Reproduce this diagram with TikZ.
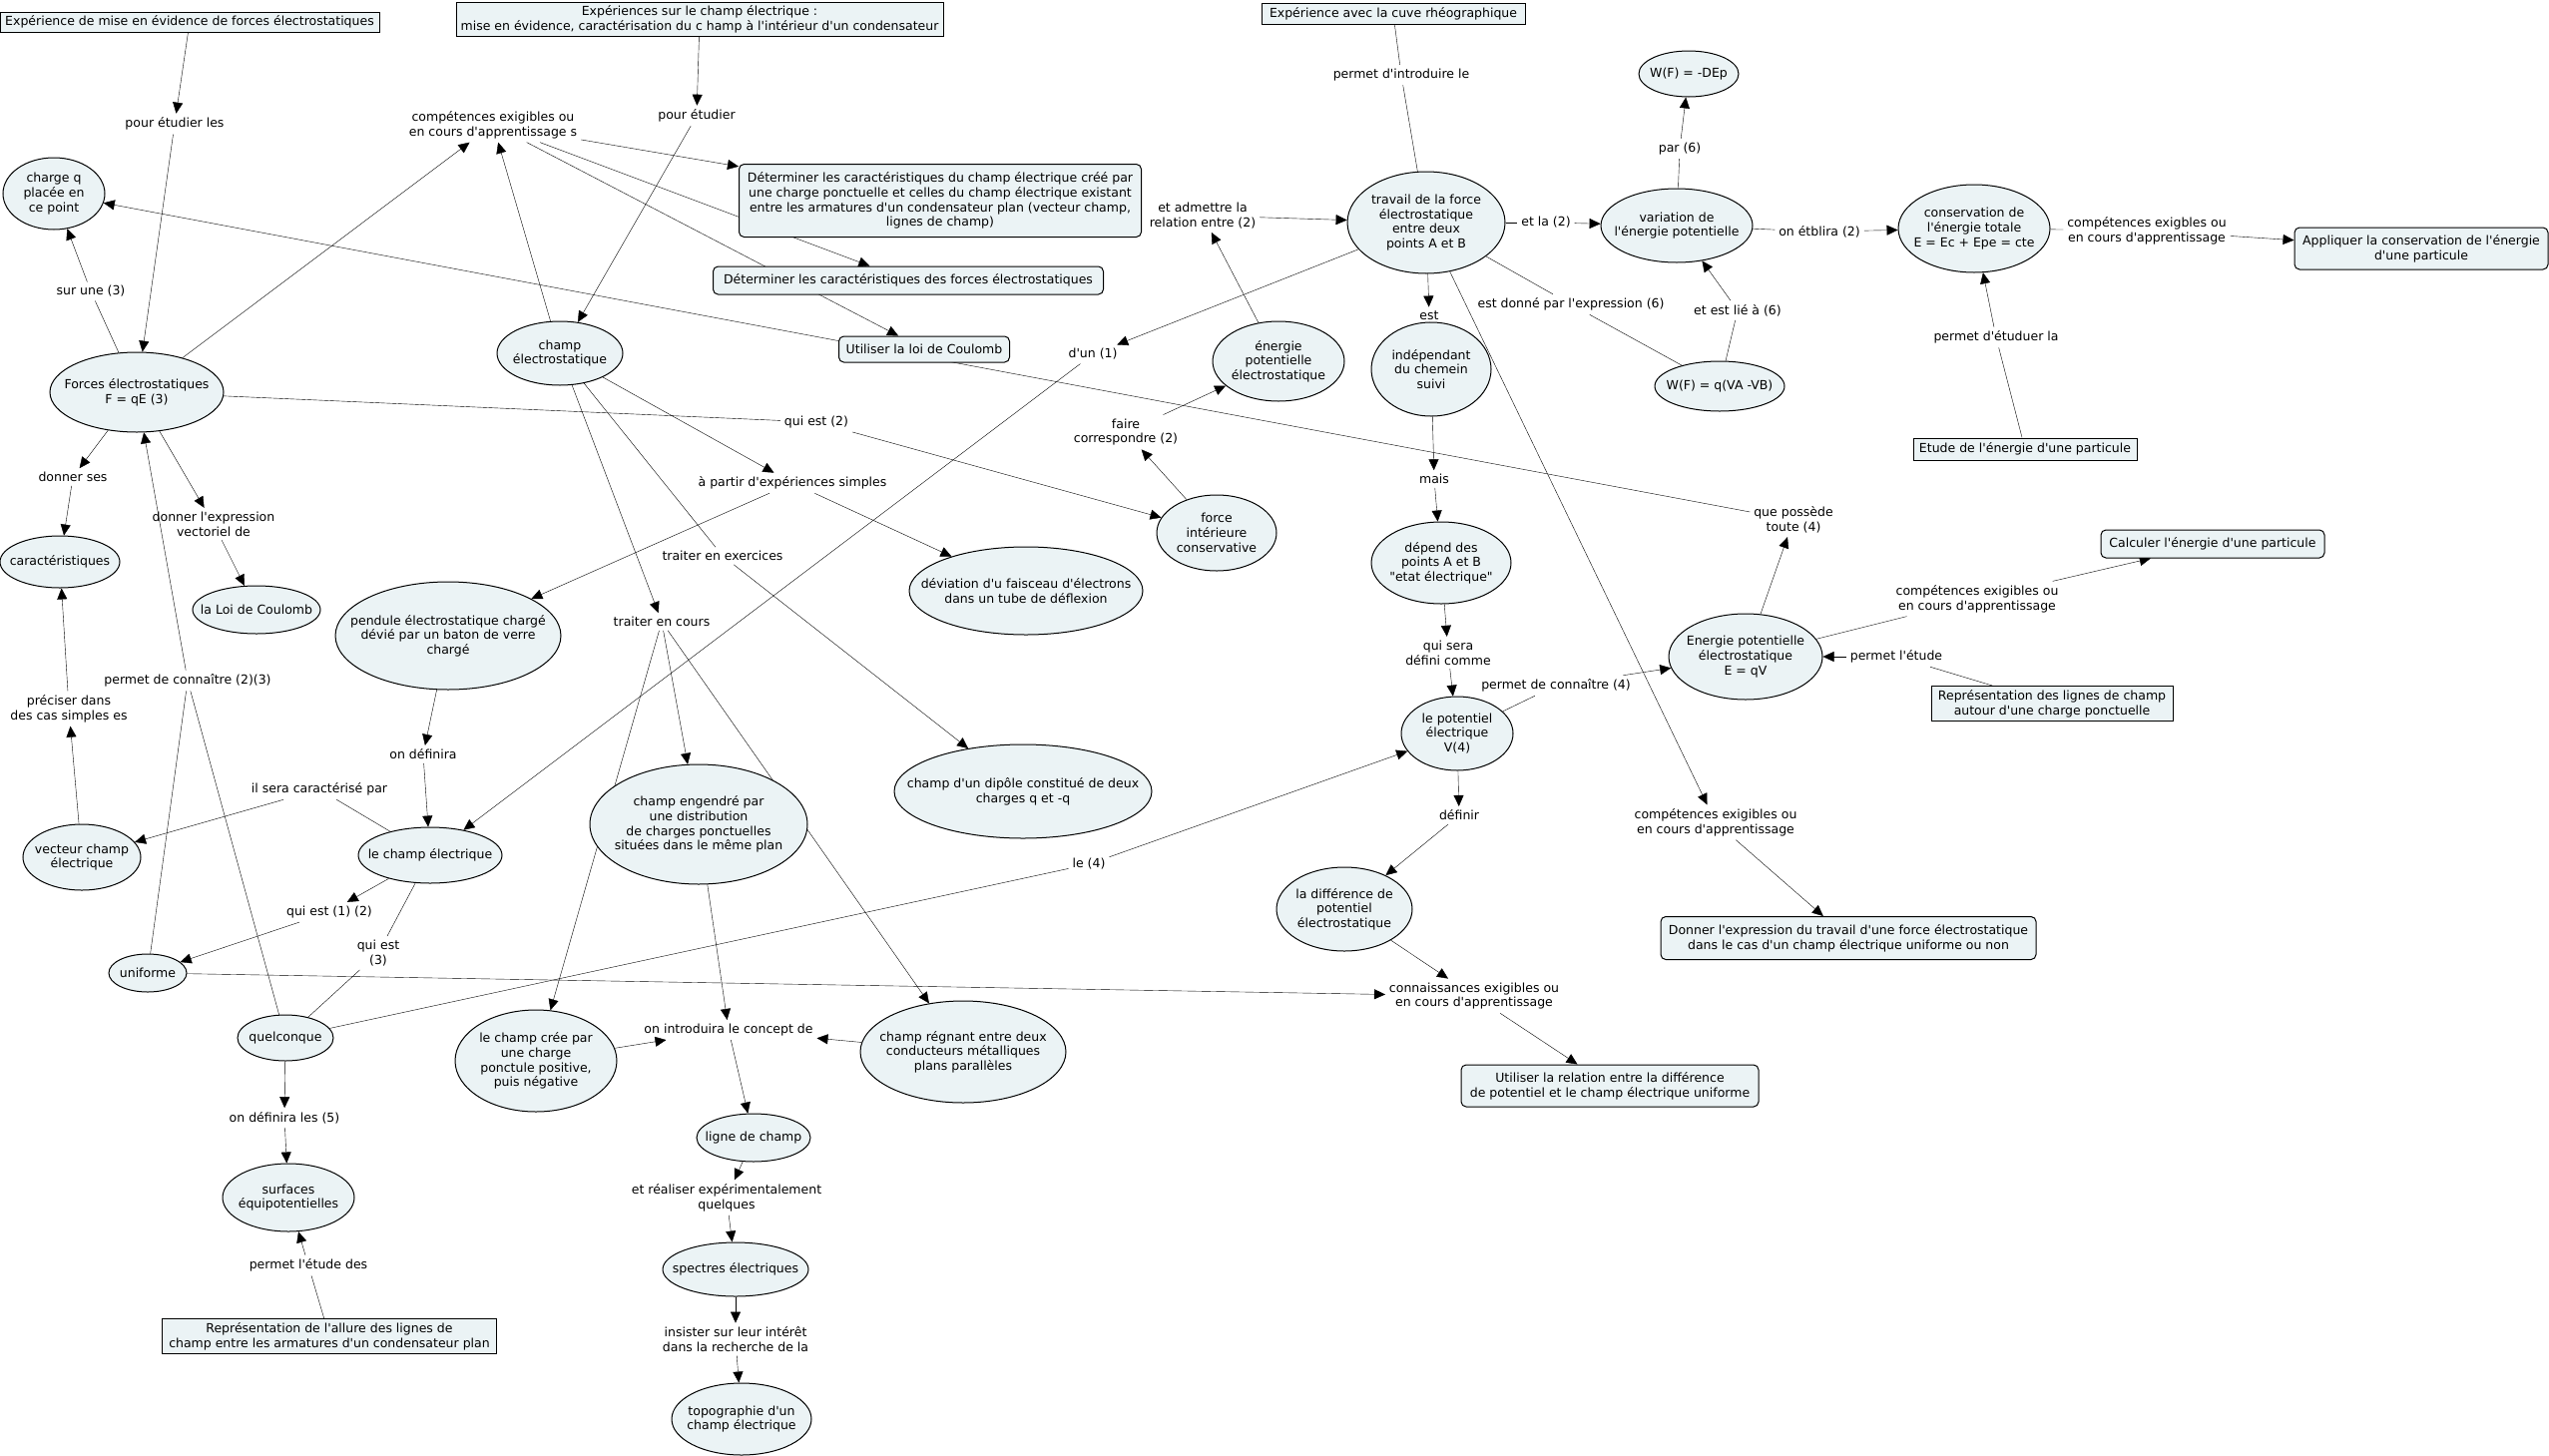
\documentclass[tikz,border=0pt]{standalone}
\usepackage{fontspec}
\setmainfont{DejaVu Sans}[Ligatures=TeXOff]
\usetikzlibrary{arrows.meta, shapes.geometric, backgrounds}
\definecolor{cmapfill}{RGB}{235,243,245}

\begin{document}
\begin{tikzpicture}[
            x=1pt, y=-1pt,
            line width=1pt,
            every node/.style={font=\fontsize{12.5}{14.7}\selectfont},
            concept/.style={ellipse, draw, fill=cmapfill, inner sep=0pt},
            ctext/.style={align=center, inner sep=0pt},
            block/.style={rectangle, draw, fill=cmapfill, inner sep=2pt, align=center},
            goal/.style={block, rounded corners=5pt},
            link/.style={align=center, inner sep=3.5pt},
            arr/.style={-{Triangle[length=11pt, width=10pt]}}
        ]

        \useasboundingbox (0,0) rectangle (2554,1459);

        \node[block, minimum width=380, minimum height=20] (expforces) at (190,22) {Expérience de mise en évidence de forces électrostatiques};
        \node[block, minimum width=488, minimum height=34] (expchamp) at (701,19) {Expériences sur le champ électrique :\\mise en évidence, caractérisation du c hamp à l'intérieur d'un condensateur};
        \node[block, minimum width=264, minimum height=21] (expcuve) at (1396,14) {Expérience avec la cuve rhéographique};
        \node[block, minimum width=224, minimum height=22] (etude) at (2029,450) {Etude de l'énergie d'une particule};
        \node[block, minimum width=242, minimum height=35] (reprcharge) at (2056,705) {Représentation des lignes de champ\\autour d'une charge ponctuelle};
        \node[block, minimum width=335, minimum height=35] (reprcond) at (330,1339) {Représentation de l'allure des lignes de\\champ entre les armatures d'un condensateur plan};

        \node[goal, minimum width=403, minimum height=73] (detchamp) at (942,201) {Déterminer les caractéristiques du champ électrique créé par\\une charge ponctuelle et celles du champ électrique existant\\entre les armatures d'un condensateur plan (vecteur champ,\\lignes de champ)};
        \node[goal, minimum width=391, minimum height=28] (detforces) at (910,281) {Déterminer les caractéristiques des forces électrostatiques};
        \node[goal, minimum width=171, minimum height=26] (coulomb) at (926,350) {Utiliser la loi de Coulomb};
        \node[goal, minimum width=254, minimum height=42] (appliquer) at (2426,249) {Appliquer la conservation de l'énergie\\d'une particule};
        \node[goal, minimum width=224, minimum height=28] (calculer) at (2217,545) {Calculer l'énergie d'une particule};
        \node[goal, minimum width=376, minimum height=43] (donner) at (1852,940) {Donner l'expression du travail d'une force électrostatique\\dans le cas d'un champ électrique uniforme ou non};
        \node[goal, minimum width=298, minimum height=42] (relation) at (1613,1088) {Utiliser la relation entre la différence\\de potentiel et le champ électrique uniforme};

        \node[concept, minimum width=102, minimum height=72, label={[ctext]center:charge q\\placée en\\ce point}] (chargeq) at (54,194) {};
        \node[concept, minimum width=174, minimum height=80, label={[ctext]center:Forces électrostatiques\\F = qE (3)}] (forces) at (137,393) {};
        \node[concept, minimum width=126, minimum height=64, label={[ctext]center:champ\\électrostatique}] (champstat) at (561,354) {};
        \node[concept, minimum width=120, minimum height=52, label={[ctext]center:caractéristiques}] (caract) at (60,563) {};
        \node[concept, minimum width=128, minimum height=48, label={[ctext]center:la Loi de Coulomb}] (loicoulomb) at (257,611) {};
        \node[concept, minimum width=226, minimum height=108, label={[ctext]center:pendule électrostatique chargé\\dévié par un baton de verre\\chargé}] (pendule) at (449,637) {};
        \node[concept, minimum width=118, minimum height=66, label={[ctext]center:vecteur champ\\électrique}] (vecteur) at (82,859) {};
        \node[concept, minimum width=144, minimum height=56, label={[ctext]center:le champ électrique}] (champelec) at (431,857) {};
        \node[concept, minimum width=78, minimum height=38, label={[ctext]center:uniforme}] (uniforme) at (148,975) {};
        \node[concept, minimum width=96, minimum height=46, label={[ctext]center:quelconque}] (quelconque) at (286,1040) {};
        \node[concept, minimum width=132, minimum height=68, label={[ctext]center:surfaces\\équipotentielles}] (surfaces) at (289,1200) {};
        \node[concept, minimum width=218, minimum height=120, label={[ctext]center:champ engendré par\\une distribution\\de charges ponctuelles\\situées dans le même plan}] (engendre) at (700,826) {};
        \node[concept, minimum width=162, minimum height=102, label={[ctext]center:le champ crée par\\une charge\\ponctule positive,\\puis négative}] (chargecree) at (537,1063) {};
        \node[concept, minimum width=206, minimum height=102, label={[ctext]center:champ régnant entre deux\\conducteurs métalliques\\plans parallèles}] (regnant) at (965,1054) {};
        \node[concept, minimum width=114, minimum height=48, label={[ctext]center:ligne de champ}] (ligne) at (755,1140) {};
        \node[concept, minimum width=146, minimum height=54, label={[ctext]center:spectres électriques}] (spectres) at (737,1272) {};
        \node[concept, minimum width=140, minimum height=72, label={[ctext]center:topographie d'un\\champ électrique}] (topo) at (743,1422) {};
        \node[concept, minimum width=234, minimum height=88, label={[ctext]center:déviation d'u faisceau d'électrons\\dans un tube de déflexion}] (deviation) at (1028,592) {};
        \node[concept, minimum width=258, minimum height=94, label={[ctext]center:champ d'un dipôle constitué de deux\\charges q et -q}] (dipole) at (1025,793) {};
        \node[concept, minimum width=120, minimum height=76, label={[ctext]center:force\\intérieure\\conservative}] (forceint) at (1219,534) {};
        \node[concept, minimum width=132, minimum height=80, label={[ctext]center:énergie\\potentielle\\électrostatique}] (energieelec) at (1281,362) {};
        \node[concept, minimum width=158, minimum height=102, label={[ctext]center:travail de la force\\électrostatique\\entre deux\\points A et B}] (travail) at (1429,223) {};
        \node[concept, minimum width=120, minimum height=94, label={[ctext]center:indépendant\\du chemein\\suivi}] (indep) at (1434,370) {};
        \node[concept, minimum width=140, minimum height=82, label={[ctext]center:dépend des\\points A et B\\"etat électrique"}] (depend) at (1444,564) {};
        \node[concept, minimum width=112, minimum height=74, label={[ctext]center:le potentiel\\électrique\\V(4)}] (potentiel) at (1460,735) {};
        \node[concept, minimum width=136, minimum height=84, label={[ctext]center:la différence de\\potentiel\\électrostatique}] (difference) at (1347,911) {};
        \node[concept, minimum width=152, minimum height=74, label={[ctext]center:variation de\\l'énergie potentielle}] (variation) at (1680,226) {};
        \node[concept, minimum width=100, minimum height=46, label={[ctext]center:W(F) = -DEp}] (wdep) at (1692,74) {};
        \node[concept, minimum width=130, minimum height=50, label={[ctext]center:W(F) = q(VA -VB)}] (wqv) at (1723,387) {};
        \node[concept, minimum width=154, minimum height=86, label={[ctext]center:Energie potentielle\\électrostatique\\E = qV}] (energiepot) at (1749,658) {};
        \node[concept, minimum width=152, minimum height=88, label={[ctext]center:conservation de\\l'énergie totale\\E = Ec + Epe = cte}] (conservation) at (1978,229) {};

        \node[link] (pouretudierles) at (175,124) {pour étudier les};
        \node[link] (pouretudier) at (698,116) {pour étudier};
        \node[link] (compA) at (494,125) {compétences exigibles ou\\en cours d'apprentissage s};
        \node[link] (surune) at (91,292) {sur une (3)};
        \node[link] (donnerses) at (73,478) {donner ses};
        \node[link] (donnerexpr) at (214,525) {donner l'expression\\vectoriel de};
        \node[link] (permetconn) at (188,682) {permet de connaître (2)(3)};
        \node[link] (preciser) at (69,710) {préciser dans\\des cas simples es};
        \node[link] (quiestdeux) at (818,423) {qui est (2)};
        \node[link] (apartir) at (794,484) {à partir d'expériences simples};
        \node[link] (exercices) at (724,557) {traiter en exercices};
        \node[link] (encours) at (663,623) {traiter en cours};
        \node[link] (ondefinira) at (424,756) {on définira};
        \node[link] (caracterise) at (320,791) {il sera caractérisé par};
        \node[link] (quiestun) at (330,914) {qui est (1) (2)};
        \node[link] (quiesttrois) at (379,955) {qui est\\(3)};
        \node[link] (definirales) at (285,1120) {on définira les (5)};
        \node[link] (etudedes) at (309,1268) {permet l'étude des};
        \node[link] (introduira) at (730,1032) {on introduira le concept de};
        \node[link] (realiser) at (728,1200) {et réaliser expérimentalement\\quelques};
        \node[link] (insister) at (737,1342) {insister sur leur intérêt\\dans la recherche de la};
        \node[link] (lequatre) at (1091,866) {le (4)};
        \node[link] (dun) at (1095,355) {d'un (1)};
        \node[link] (admettre) at (1205,216) {et admettre la\\relation entre (2)};
        \node[link] (faire) at (1128,433) {faire\\correspondre (2)};
        \node[link] (introduire) at (1404,75) {permet d'introduire le};
        \node[link] (etla) at (1549,223) {et la (2)};
        \node[link] (par) at (1683,149) {par (6)};
        \node[link] (etablira) at (1823,232) {on étblira (2)};
        \node[link] (est) at (1432,316) {est};
        \node[link] (estdonne) at (1574,305) {est donné par l'expression (6)};
        \node[link] (estlie) at (1741,311) {et est lié à (6)};
        \node[link] (mais) at (1437,480) {mais};
        \node[link] (sera) at (1451,654) {qui sera\\défini comme};
        \node[link] (connquatre) at (1559,687) {permet de connaître (4)};
        \node[link] (definir) at (1462,817) {définir};
        \node[link] (compC) at (1719,824) {compétences exigibles ou\\en cours d'apprentissage};
        \node[link] (connaiss) at (1477,998) {connaissances exigibles ou\\en cours d'apprentissage};
        \node[link] (possede) at (1797,521) {que possède\\toute (4)};
        \node[link] (compD) at (1981,600) {compétences exigibles ou\\en cours d'apprentissage};
        \node[link] (permetetude) at (1900,658) {permet l'étude};
        \node[link] (compB) at (2151,231) {compétences exigbles ou\\en cours d'apprentissage};
        \node[link] (etuduer) at (2000,338) {permet d'étuduer la};

        \begin{pgfonlayer}{background}
        \draw[arr] (expforces) -- (pouretudierles);
        \draw[arr] (pouretudierles) -- (forces);
        \draw[arr] (expchamp) -- (pouretudier);
        \draw[arr] (pouretudier) -- (champstat);
        \draw (expcuve) -- (introduire) -- (travail);

        \draw (forces) -- (surune);
        \draw[arr] (surune) -- (chargeq);
        \draw[arr] (forces) -- (compA);
        \draw[arr] (champstat) -- (compA);
        \draw[arr] (compA) -- (detchamp);
        \draw[arr] (compA) -- (detforces);
        \draw[arr] (compA) -- (coulomb);
        \draw[arr] (forces) -- (donnerses);
        \draw[arr] (donnerses) -- (caract);
        \draw[arr] (forces) -- (donnerexpr);
        \draw[arr] (donnerexpr) -- (loicoulomb);
        \draw (forces) -- (quiestdeux);
        \draw[arr] (quiestdeux) -- (forceint);
        \draw (uniforme) -- (permetconn);
        \draw (quelconque) -- (permetconn);
        \draw[arr] (permetconn) -- (forces);
        \draw[arr] (vecteur) -- (preciser);
        \draw[arr] (preciser) -- (caract);

        \draw[arr] (champstat) -- (apartir);
        \draw[arr] (apartir) -- (pendule);
        \draw[arr] (apartir) -- (deviation);
        \draw[arr] (champstat) -- (encours);
        \draw[arr] (encours) -- (engendre);
        \draw[arr] (encours) -- (chargecree);
        \draw[arr] (encours) -- (regnant);
        \draw (champstat) -- (exercices);
        \draw[arr] (exercices) -- (dipole);

        \draw[arr] (pendule) -- (ondefinira);
        \draw[arr] (ondefinira) -- (champelec);
        \draw (champelec) -- (caracterise);
        \draw[arr] (caracterise) -- (vecteur);
        \draw[arr] (champelec) -- (quiestun);
        \draw[arr] (quiestun) -- (uniforme);
        \draw (champelec) -- (quiesttrois) -- (quelconque);
        \draw[arr] (quelconque) -- (definirales);
        \draw[arr] (definirales) -- (surfaces);
        \draw (reprcond) -- (etudedes);
        \draw[arr] (etudedes) -- (surfaces);
        \draw (quelconque) -- (lequatre);
        \draw[arr] (lequatre) -- (potentiel);
        \draw[arr] (uniforme) -- (connaiss);
        \draw[arr] (difference) -- (connaiss);
        \draw[arr] (connaiss) -- (relation);

        \draw[arr] (engendre) -- (introduira);
        \draw[arr] (chargecree) -- (introduira);
        \draw[arr] (regnant) -- (introduira);
        \draw[arr] (introduira) -- (ligne);
        \draw[arr] (ligne) -- (realiser);
        \draw[arr] (realiser) -- (spectres);
        \draw[arr] (spectres) -- (insister);
        \draw[arr] (insister) -- (topo);

        \draw[arr] (travail) -- (dun);
        \draw[arr] (dun) -- (champelec);
        \draw[arr] (energieelec) -- (admettre);
        \draw[arr] (admettre) -- (travail);
        \draw[arr] (forceint) -- (faire);
        \draw[arr] (faire) -- (energieelec);
        \draw (travail) -- (etla);
        \draw[arr] (etla) -- (variation);
        \draw (variation) -- (par);
        \draw[arr] (par) -- (wdep);
        \draw (variation) -- (etablira);
        \draw[arr] (etablira) -- (conservation);
        \draw (conservation) -- (compB);
        \draw[arr] (compB) -- (appliquer);
        \draw (etude) -- (etuduer);
        \draw[arr] (etuduer) -- (conservation);
        \draw[arr] (travail) -- (est);
        \draw[arr] (est) -- (indep);
        \draw (travail) -- (estdonne) -- (wqv);
        \draw (wqv) -- (estlie);
        \draw[arr] (estlie) -- (variation);
        \draw[arr] (indep) -- (mais);
        \draw[arr] (mais) -- (depend);
        \draw[arr] (depend) -- (sera);
        \draw[arr] (sera) -- (potentiel);
        \draw (potentiel) -- (connquatre);
        \draw[arr] (connquatre) -- (energiepot);
        \draw[arr] (potentiel) -- (definir);
        \draw[arr] (definir) -- (difference);
        \draw[arr] (energiepot) -- (possede);
        \draw[arr] (possede) -- (chargeq);
        \draw (energiepot) -- (compD);
        \draw[arr] (compD) -- (calculer);
        \draw (reprcharge) -- (permetetude);
        \draw[arr] (permetetude) -- (energiepot);
        \draw[arr] (travail) -- (compC);
        \draw[arr] (compC) -- (donner);
        \end{pgfonlayer}

    \end{tikzpicture}
\end{document}
